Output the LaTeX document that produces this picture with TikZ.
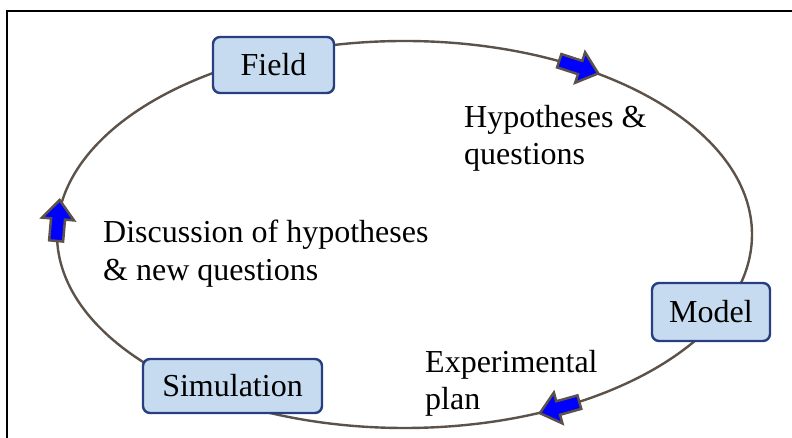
\documentclass[tikz,border=0pt]{standalone}
\usepackage{fontspec}
\setmainfont{Liberation Serif}
\definecolor{ringcol}{RGB}{92,82,74}
\definecolor{boxfill}{RGB}{198,219,240}
\definecolor{boxedge}{RGB}{40,62,128}
\definecolor{arrowfill}{RGB}{0,0,255}
\tikzset{
  ringline/.style={draw=ringcol, line width=2.4pt},
  stagebox/.style={draw=boxedge, fill=boxfill, line width=2.4pt, rounded corners=7pt,
    minimum height=56pt, inner sep=0pt, font=\fontsize{32}{37}\selectfont},
  labeltext/.style={anchor=north west, inner sep=0pt, align=left, font=\fontsize{32}{37.5}\selectfont},
  flowarrow/.pic={
    \draw[draw=ringcol, fill=arrowfill, line width=2.5pt, line join=miter]
      (-20,-7) -- (2,-7) -- (2,-16) -- (21,0) -- (2,16) -- (2,7) -- (-20,7) -- cycle;
  }
}
\begin{document}
\begin{tikzpicture}[x=1pt,y=1pt]
\useasboundingbox (0,0) rectangle (792,438);
% frame
\draw[line width=2.5pt, line cap=rect] (7,-5) -- (7,427) -- (797,427);
% cycle
\draw[ringline] (404.5,203.5) ellipse [x radius=347.5, y radius=193.5];
% stages
\node[stagebox, minimum width=121pt] (field) at (273.5,373) {Field};
\node[stagebox, minimum width=118pt, minimum height=58pt] (model) at (711,126) {Model};
\node[stagebox, minimum width=179pt, minimum height=54pt] (sim) at (232.5,52) {Simulation};
% arrows along the cycle
\pic[rotate=-18] at ({404.5+347.5*cos(60)},{203.5+193.5*sin(60)}) {flowarrow};
\pic[rotate=85] at ({404.5+347.5*cos(176)},{203.5+193.5*sin(176)}) {flowarrow};
\pic[rotate=195.6] at ({404.5+347.5*cos(-63.4)},{203.5+193.5*sin(-63.4)}) {flowarrow};
% labels
\node[labeltext] (hyp) at (464,333) {Hypotheses \&\\questions};
\node[labeltext] (disc) at (103,218) {Discussion of hypotheses\\\& new questions};
\node[labeltext] (plan) at (425,88) {Experimental\\plan};
\end{tikzpicture}
\end{document}
